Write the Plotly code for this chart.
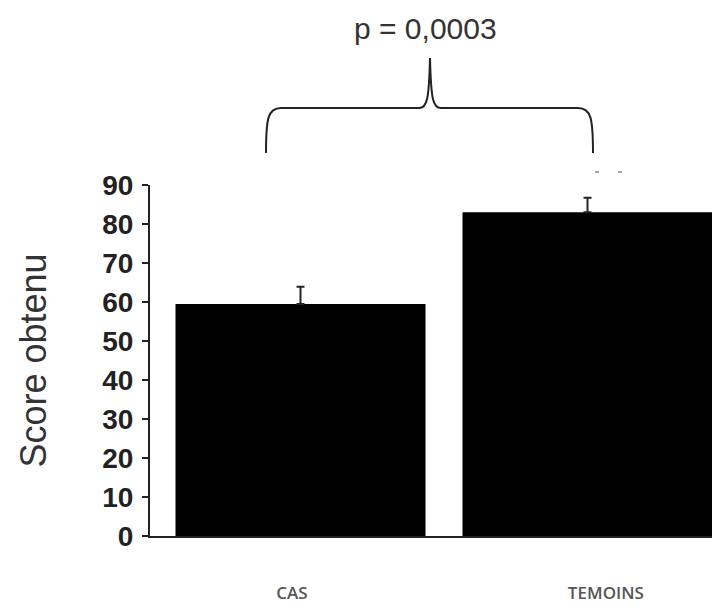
import plotly.graph_objects as go

categories = ["CAS", "TEMOINS"]
scores = [59.5, 83.0]
errors_up = [4.4, 3.7]
y_ticks = [0, 10, 20, 30, 40, 50, 60, 70, 80, 90]
p_label = "p = 0,0003"

# layout (page pixels; page has an 8px body margin)
OFF = 8
W, H = 720, 607
plot_left, plot_right, plot_top, plot_bottom = 150, 716, 185, 536
L, T = plot_left - OFF, plot_top - OFF
R = W - (plot_right - OFF)
B = H - (plot_bottom - OFF)
pw, ph = W - L - R, H - T - B

unit = 287.0          # px between category centres
x0_page = 300.5       # centre of first bar
x_range = [(plot_left - x0_page) / unit, (plot_right - x0_page) / unit]
label_pos = [-0.03, 1.064]

def px(x):
    return (x - OFF - L) / pw

def py(y):
    return (H - B - (y - OFF)) / ph

xs = list(range(len(categories)))

fig = go.Figure()
fig.add_trace(go.Bar(
    x=xs, y=scores,
    marker=dict(color="black", line=dict(width=0)),
    error_y=dict(type="data", array=errors_up, arrayminus=[0] * len(scores), symmetric=False,
                 color="#222", thickness=2, width=4),
    width=250 / unit,
))

brace = (f"M {px(266)},{py(153)} C {px(266)},{py(118)} {px(268)},{py(108)} {px(281)},{py(108)} "
         f"L {px(419)},{py(108)} C {px(427)},{py(108)} {px(429)},{py(100)} {px(430)},{py(58)} "
         f"C {px(431)},{py(100)} {px(433)},{py(108)} {px(441)},{py(108)} "
         f"L {px(578)},{py(108)} C {px(591)},{py(108)} {px(593)},{py(118)} {px(593)},{py(153)}")

shapes = [dict(type="path", path=brace, xref="paper", yref="paper",
               line=dict(color="#222", width=2))]
for dx in (595, 618):
    shapes.append(dict(type="line", xref="paper", yref="paper",
                       x0=px(dx), x1=px(dx + 4), y0=py(172), y1=py(172),
                       line=dict(color="#b9a0a8", width=2)))

fig.update_layout(
    width=W, height=H,
    margin=dict(l=L, r=R, t=T, b=B),
    plot_bgcolor="white", paper_bgcolor="white",
    showlegend=False,
    font=dict(family="Liberation Sans, Arial", color="#222"),
    xaxis=dict(
        range=x_range, tickvals=label_pos, ticktext=categories,
        showline=True, linecolor="#222", linewidth=2, automargin=False,
        ticks="", tickfont=dict(family="Open Sans", size=17, color="#555", weight=600),
        ticklabelstandoff=41, showgrid=False, zeroline=False,
    ),
    yaxis=dict(
        range=[0, 90], tickvals=y_ticks, showline=True, linecolor="#222", linewidth=2,
        ticks="outside", ticklen=6, tickwidth=2, tickcolor="#222", automargin=False,
        ticklabelstandoff=3,
        tickfont=dict(family="Liberation Sans, Arial", size=28, color="#222", weight="bold"),
        showgrid=False, zeroline=False,
        title=dict(text="Score obtenu", font=dict(family="Liberation Sans, Arial", size=36, color="#333"), standoff=45),
    ),
    shapes=shapes,
    annotations=[dict(text=p_label, xref="paper", yref="paper", x=px(425), y=py(28),
                      xanchor="center", yanchor="middle",
                      showarrow=False, font=dict(size=30, color="#333",
                                                 family="Liberation Sans, Arial"))],
)

fig.write_html("out.html")
